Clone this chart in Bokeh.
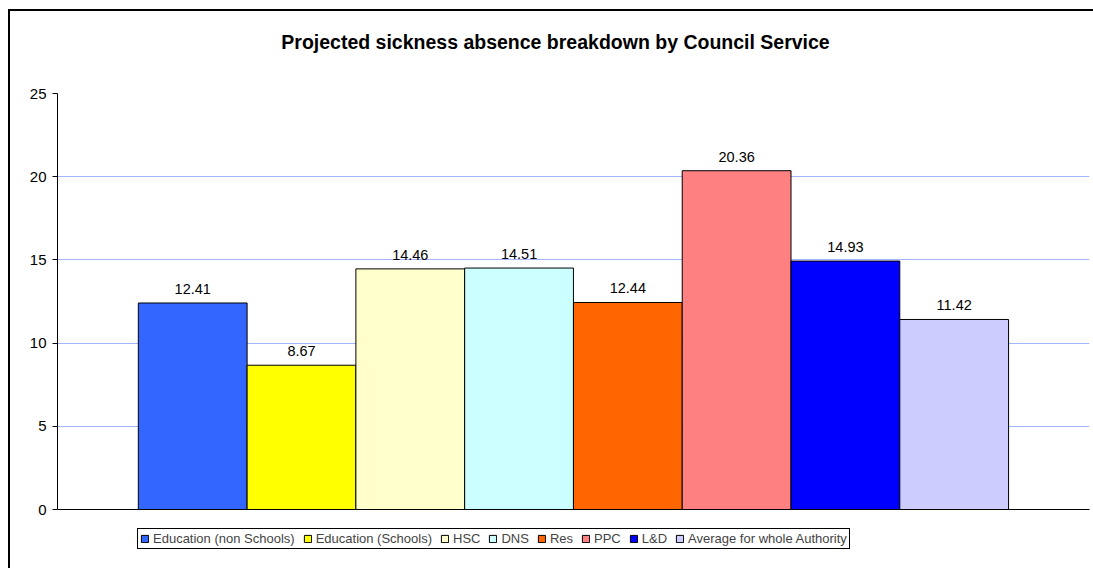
from bokeh.plotting import figure
from bokeh.layouts import column
from bokeh.models import (Range1d, Legend, LegendItem, ColumnDataSource,
                          FixedTicker, InlineStyleSheet, Label)
from bokeh.core.properties import value
from bokeh.embed import file_html
from bokeh.resources import INLINE

title = "Projected sickness absence breakdown by Council Service"
series = ["Education (non Schools)", "Education (Schools)", "HSC", "DNS", "Res",
          "PPC", "L&D", "Average for whole Authority"]
values = [12.41, 8.67, 14.46, 14.51, 12.44, 20.36, 14.93, 11.42]
colors = ["#3366ff", "#ffff00", "#ffffcc", "#ccffff", "#ff6600",
          "#ff8080", "#0000ff", "#ccccff"]
y_ticks = [0, 5, 10, 15, 20, 25]

FONT = "Liberation Sans"

src = ColumnDataSource(dict(
    x=list(range(len(series))),
    top=values,
    color=colors,
    name=series,
    lbl=[f"{v:.2f}" for v in values],
))


def blank_strip(h):
    f = figure(width=1093, height=h, output_backend="svg", toolbar_location=None,
               x_range=Range1d(-1, 8), y_range=Range1d(100, 101), min_border=0)
    f.axis.visible = False
    f.grid.visible = False
    f.outline_line_color = None
    f.background_fill_color = "white"
    f.border_fill_color = "white"
    return f


# ---------------- title strip ----------------
t = blank_strip(60)
t.add_layout(Label(x=498, y=19, x_units="screen", y_units="screen", text=title,
                   text_align="center", text_baseline="middle",
                   text_font=FONT, text_font_size="19.5px",
                   text_font_style="bold", text_color="black"))

# ---------------- main chart ----------------
p = figure(width=1093, height=462, output_backend="svg", toolbar_location=None,
           x_range=Range1d(-1.243, 8.244), y_range=Range1d(0, 25),
           min_border_left=57, min_border_right=4, min_border_top=33,
           min_border_bottom=13)
p.outline_line_color = None
p.background_fill_color = "white"
p.border_fill_color = "white"

p.xaxis.ticker = FixedTicker(ticks=[])
p.xaxis.axis_line_color = "black"
p.xaxis.major_tick_line_color = None
p.xaxis.minor_tick_line_color = None
p.xaxis.major_label_text_font_size = "0px"
p.xgrid.grid_line_color = None

p.yaxis.ticker = FixedTicker(ticks=y_ticks)
p.yaxis.axis_line_color = "black"
p.yaxis.major_tick_out = 5
p.yaxis.major_tick_in = 0
p.yaxis.minor_tick_line_color = None
p.yaxis.major_label_standoff = 6
p.yaxis.major_label_text_font = FONT
p.yaxis.major_label_text_font_size = "15px"
p.yaxis.major_label_text_color = "black"
p.ygrid.ticker = FixedTicker(ticks=y_ticks)
p.ygrid.grid_line_color = "#a3b5fb"
p.ygrid.grid_line_width = 1

p.vbar(x="x", top="top", width=1, bottom=0, fill_color="color",
       line_color="black", line_width=1, source=src)

p.text(x="x", y="top", text="lbl", source=src, text_align="center",
       text_baseline="bottom", y_offset=-9, text_font=value(FONT),
       text_font_size="14.5px", text_color="black")

# ---------------- legend strip ----------------
q = blank_strip(46)
r2 = q.vbar(x="x", top="top", width=1, bottom=0, fill_color="color",
            line_color="black", line_width=1, source=src)

items = [LegendItem(label=s, renderers=[r2], index=i) for i, s in enumerate(series)]
legend = Legend(items=items, orientation="horizontal", location=(80, 19),
                label_text_font=FONT, label_text_font_size="13px",
                label_height=10, glyph_height=9, glyph_width=9,
                label_standoff=4, spacing=8, padding=2, margin=0,
                border_line_color="black", border_line_width=1,
                border_line_alpha=1.0,
                background_fill_color="white", background_fill_alpha=1)
q.add_layout(legend, "center")

layout = column(t, p, q, spacing=0)
layout.stylesheets = [InlineStyleSheet(css=""":host { position: relative; }
:host::after {
  content: ""; position: absolute; left: 8px; top: 9px; right: 0px; bottom: 0px;
  border-left: 2px solid black; border-top: 2px solid black;
  pointer-events: none; }""")]

open("out.html", "w").write(file_html(layout, INLINE))
